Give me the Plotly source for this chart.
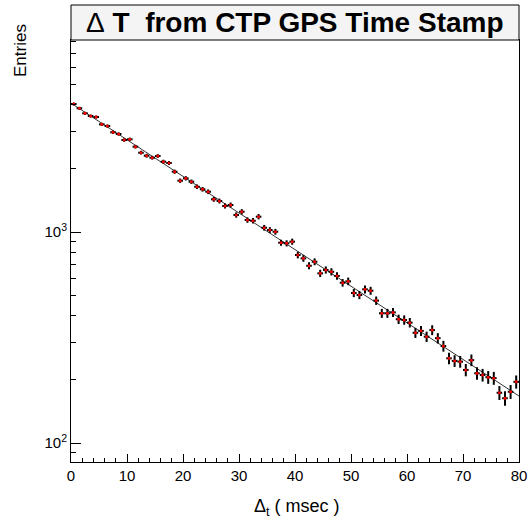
import plotly.graph_objects as go

# Histogram bin centres (msec) and entries
bin_centres = [i + 0.5 for i in range(80)]
entries = [
    4044, 3858, 3652, 3546, 3508, 3238, 3179, 2969, 2914, 2729,
    2750, 2537, 2376, 2299, 2250, 2292, 2154, 2123, 1931, 1751,
    1797, 1731, 1639, 1594, 1552, 1429, 1403, 1328, 1343, 1204,
    1248, 1140, 1131, 1182, 1048, 1022, 1003, 890, 884, 900,
    778, 750, 692, 723, 637, 661, 648, 619, 575, 584,
    514, 503, 535, 527, 473, 412, 412, 416, 386, 383,
    372, 333, 340, 319, 343, 314, 288, 252, 245, 243,
    222, 247, 214, 210, 205, 203, 173, 163, 175, 195,
]

# Exponential fit (straight on log axis): endpoints
fit_x = [0, 80]
fit_y = [4080, 167]

x_tick_vals = [0, 10, 20, 30, 40, 50, 60, 70, 80]
y_tick_vals = [100, 1000]
y_tick_text = ["10<sup>2</sup>", "10<sup>3</sup>"]
y_minor_vals = [90] + [m * 100 for m in range(2, 10)] + [m * 1000 for m in range(2, 10)]

fig = go.Figure()

fig.add_trace(go.Scatter(
    x=fit_x, y=fit_y, mode="lines",
    line=dict(color="#333333", width=1),
    hoverinfo="skip", showlegend=False,
))

fig.add_trace(go.Scatter(
    x=bin_centres, y=entries, mode="markers",
    marker=dict(color="red", size=3),
    error_y=dict(type="sqrt", color="black", thickness=2, width=0),
    error_x=dict(type="constant", value=0.5, color="black", thickness=2, width=0),
    showlegend=False,
))

font_family = "Liberation Sans, Arial, sans-serif"

fig.update_layout(
    width=528, height=525,
    margin=dict(l=71, r=9, t=40, b=63, autoexpand=False),
    paper_bgcolor="white", plot_bgcolor="white",
    font=dict(family=font_family, color="black", size=14),
    xaxis=dict(
        range=[0, 80], tickvals=x_tick_vals, ticks="inside", ticklen=8,
        tickcolor="black", showline=True, linecolor="black", linewidth=1,
        mirror=True, showgrid=False, zeroline=False, automargin=False,
        tickfont=dict(size=15),
        minor=dict(dtick=2, tick0=0, ticks="inside", ticklen=4, tickcolor="black"),
    ),
    yaxis=dict(
        type="log", range=[1.91, 3.91], tickvals=y_tick_vals, ticktext=y_tick_text,
        ticks="inside", ticklen=10, tickcolor="black",
        showline=True, linecolor="black", linewidth=1, mirror=True,
        showgrid=False, zeroline=False, automargin=False, tickfont=dict(size=15),
        minor=dict(tickmode="array", tickvals=y_minor_vals, ticks="inside",
                   ticklen=5, tickcolor="black"),
    ),
    shapes=[dict(
        type="rect", xref="paper", yref="paper",
        x0=0, x1=1, y0=1.0, y1=1 + 35 / 422,
        fillcolor="#f4f4f4", line=dict(color="black", width=1),
    )],
    annotations=[
        dict(text="\u0394<b>\u00a0T\u00a0\u00a0from CTP GPS Time Stamp</b>",
             xref="paper", yref="paper", x=0.5, y=1 + 17.5 / 422,
             xanchor="center", yanchor="middle", showarrow=False,
             font=dict(size=28, family=font_family)),
        dict(text="\u0394<sub>t</sub> ( msec )", xref="paper", yref="paper",
             x=(297 - 71) / 448, y=-(508 - 462) / 422, xanchor="center", yanchor="middle",
             showarrow=False, font=dict(size=18, family=font_family)),
        dict(text="Entries", xref="paper", yref="paper",
             x=-(71 - 20) / 448, y=1 - (51 - 40) / 422, xanchor="center", yanchor="middle",
             textangle=-90, showarrow=False, font=dict(size=17, family=font_family)),
    ],
)

fig.write_html("out.html", post_script="document.body.style.margin='0';",
               config={"displayModeBar": False})
